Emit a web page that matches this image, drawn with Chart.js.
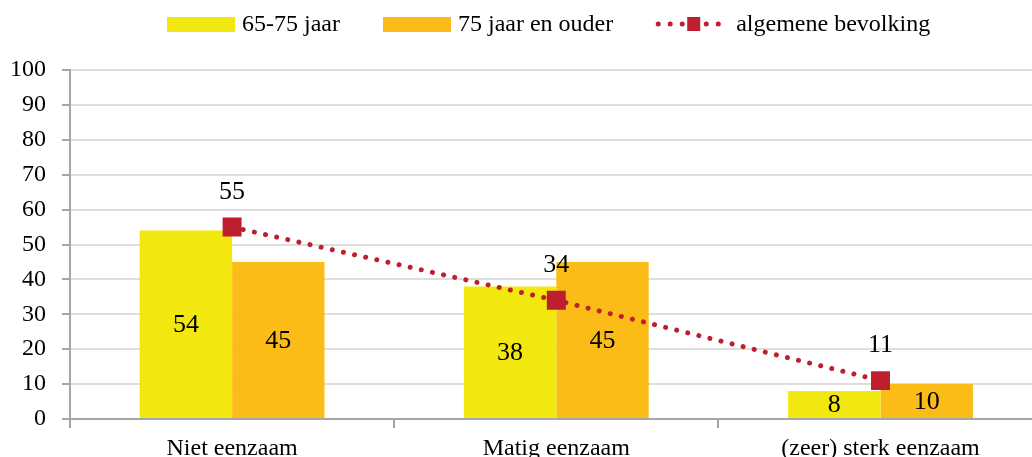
<!DOCTYPE html>
<html>
<head>
<meta charset="utf-8">
<title>Eenzaamheid naar leeftijd</title>
<script src="https://cdn.jsdelivr.net/npm/chart.js@4"></script>
<style>
  html, body { margin: 0; padding: 0; background: #fff; overflow: hidden; }
  #wrap { width: 1056px; height: 457px; }
</style>
</head>
<body>
<div id="wrap"><canvas id="eenzaamChart" width="1056" height="457"></canvas></div>
<script>
var categories = ['Niet eenzaam', 'Matig eenzaam', '(zeer) sterk eenzaam'];
var jaar65tot75 = [54, 38, 8];
var jaar75enOuder = [45, 45, 10];
var algemeneBevolking = [55, 34, 11];
var yTicks = [0, 10, 20, 30, 40, 50, 60, 70, 80, 90, 100];

var GEEL = '#f2e70f';
var ORANJE = '#fbbc18';
var ROOD = '#be1e2d';
var FONT = "'Liberation Serif', 'Times New Roman', serif";
var FONTSIZE = 24;

Chart.defaults.font.family = FONT;
Chart.defaults.font.size = FONTSIZE;
Chart.defaults.color = '#000';

// getallen in de staven en boven de punten
var waardeLabels = {
    id: 'waardeLabels',
    afterDatasetsDraw: function(chart) {
        var ctx = chart.ctx;
        ctx.save();
        ctx.fillStyle = '#000';
        ctx.textAlign = 'center';
        ctx.textBaseline = 'middle';
        ctx.font = '26px ' + FONT;
        chart.data.datasets.forEach(function(ds, i) {
            var meta = chart.getDatasetMeta(i);
            meta.data.forEach(function(el, j) {
                var v = ds.data[j];
                if (ds.type === 'line') {
                    ctx.fillText(v, el.x, el.y - 35);
                } else {
                    ctx.fillText(v, el.x, (el.y + el.base) / 2 + 1);
                }
            });
        });
        ctx.restore();
    }
};

// legenda bovenaan, zelf getekend (lijn met puntjes en blokje)
var legendaRij = {
    id: 'legendaRij',
    afterDraw: function(chart) {
        var ctx = chart.ctx;
        var x = 167, y = 24;
        ctx.save();
        ctx.font = FONTSIZE + 'px ' + FONT;
        ctx.textBaseline = 'middle';
        chart.data.datasets.forEach(function(ds) {
            if (ds.type === 'line') {
                ctx.strokeStyle = ROOD;
                ctx.lineWidth = 5;
                ctx.lineCap = 'round';
                ctx.setLineDash([0.01, 12]);
                ctx.beginPath();
                ctx.moveTo(x + 2, y);
                ctx.lineTo(x + 66, y);
                ctx.stroke();
                ctx.setLineDash([]);
                ctx.fillStyle = ROOD;
                ctx.fillRect(x + 31, y - 7, 13, 14);
                x += 68 + 12;
            } else {
                ctx.fillStyle = ds.backgroundColor;
                ctx.fillRect(x, y - 7, 68, 15);
                x += 68 + 7;
            }
            ctx.fillStyle = '#000';
            ctx.fillText(ds.label, x, y + 1);
            x += ctx.measureText(ds.label).width + 43;
        });
        ctx.restore();
    }
};

new Chart(document.getElementById('eenzaamChart').getContext('2d'), {
    data: {
        labels: categories,
        datasets: [{
            type: 'bar',
            label: '65-75 jaar',
            data: jaar65tot75,
            order: 1,
            backgroundColor: GEEL,
            categoryPercentage: 0.57,
            barPercentage: 1.0
        }, {
            type: 'bar',
            label: '75 jaar en ouder',
            data: jaar75enOuder,
            order: 1,
            backgroundColor: ORANJE,
            categoryPercentage: 0.57,
            barPercentage: 1.0
        }, {
            type: 'line',
            label: 'algemene bevolking',
            data: algemeneBevolking,
            order: 0,
            borderColor: ROOD,
            borderWidth: 5,
            borderDash: [0.01, 11.4],
            borderCapStyle: 'round',
            pointStyle: 'rect',
            pointRadius: 13.4,
            pointBorderWidth: 0,
            pointBackgroundColor: ROOD,
            tension: 0
        }]
    },
    options: {
        responsive: false,
        animation: false,
        devicePixelRatio: 1,
        layout: { padding: { top: 70, right: 6, left: 0, bottom: 0 } },
        plugins: {
            legend: { display: false },
            tooltip: { enabled: false }
        },
        scales: {
            x: {
                offset: true,
                afterFit: function(scale) { scale.height = 38; },
                grid: {
                    drawOnChartArea: false,
                    tickLength: 9,
                    color: '#a6a6a6',
                    lineWidth: 2
                },
                border: { color: '#a6a6a6', width: 2 },
                ticks: { padding: 6, color: '#000' }
            },
            y: {
                min: 0,
                max: 100,
                afterFit: function(scale) { scale.width = 70; },
                afterBuildTicks: function(scale) {
                    scale.ticks = yTicks.map(function(v) { return { value: v }; });
                },
                grid: {
                    color: '#dedede',
                    lineWidth: 2,
                    tickLength: 8,
                    tickColor: '#a6a6a6'
                },
                border: { color: '#a6a6a6', width: 2 },
                ticks: { padding: 16, color: '#000' }
            }
        }
    },
    plugins: [waardeLabels, legendaRij]
});
</script>
</body>
</html>
